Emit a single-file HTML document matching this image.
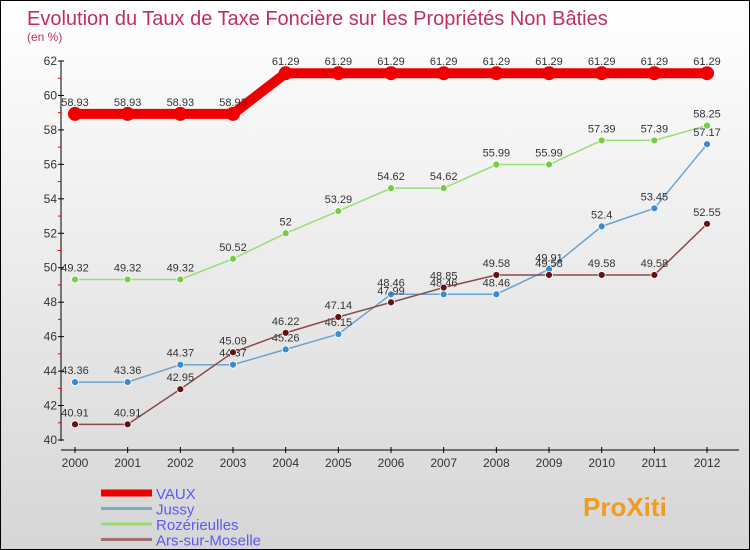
<!DOCTYPE html>
<html><head><meta charset="utf-8"><style>
body{margin:0}
#c{width:748px;height:548px;border:1px solid #000;background:linear-gradient(#fff,#d6d6d6);position:relative;overflow:hidden;font-family:"Liberation Sans",sans-serif}
</style></head><body>
<div id="c">
<svg id="s" width="748" height="548" style="position:absolute;left:0;top:0"></svg>
</div>
<script>
const years=["2000","2001","2002","2003","2004","2005","2006","2007","2008","2009","2010","2011","2012"];
const vaux=[58.93,58.93,58.93,58.93,61.29,61.29,61.29,61.29,61.29,61.29,61.29,61.29,61.29];
const jussy=[43.36,43.36,44.37,44.37,45.26,46.15,48.46,48.46,48.46,49.91,52.4,53.45,57.17];
const roz=[49.32,49.32,49.32,50.52,52,53.29,54.62,54.62,55.99,55.99,57.39,57.39,58.25];
const ars=[40.91,40.91,42.95,45.09,46.22,47.14,47.99,48.85,49.58,49.58,49.58,49.58,52.55];
const yTicks=[40,42,44,46,48,50,52,54,56,58,60,62];
const NS="http://www.w3.org/2000/svg";
const s=document.getElementById('s');
function X(i){return 74+i*52.67;}
function Y(v){return 439-(v-40)*(379/22);}
function el(t,a,p){const e=document.createElementNS(NS,t);for(const k in a)e.setAttribute(k,a[k]);(p||s).appendChild(e);return e;}
let t=el('text',{x:26,y:24,'font-size':20,fill:'#c0305a'});t.textContent="Evolution du Taux de Taxe Foncière sur les Propriétés Non Bâties";

t=el('text',{x:26,y:40,'font-size':12,fill:'#c0305a'});t.textContent="(en %)";

// axes
let a=el('line',{x1:60,y1:60,x2:60,y2:440,stroke:'#000'});
a=el('line',{x1:60,y1:449,x2:738,y2:449,stroke:'#000'});
yTicks.forEach((v,i)=>{
 el('line',{x1:57,y1:Y(v),x2:63,y2:Y(v),stroke:'#000'});
 if(i<yTicks.length-1) el('line',{x1:57,y1:Y(v+1),x2:60,y2:Y(v+1),stroke:'#e00'});
 const l=el('text',{x:56,y:Y(v)+4,'font-size':12,fill:'#333','text-anchor':'end'});l.textContent=v;
 
});
years.forEach((y,i)=>{
 el('line',{x1:X(i),y1:446,x2:X(i),y2:452,stroke:'#000'});
 const l=el('text',{x:X(i),y:466,'font-size':12,fill:'#333','text-anchor':'middle'});l.textContent=y;
 
});
function series(data,color,w,r,name,dot){
 const g=el('g',{});
 el('polyline',{points:data.map((v,i)=>X(i)+','+Y(v)).join(' '),fill:'none',stroke:color,'stroke-width':w,'stroke-linejoin':'round'},g);
 data.forEach((v,i)=>{
  const c=el('circle',{cx:X(i),cy:Y(v),r:r,fill:dot,stroke:'#fff','stroke-width':r>4?0:0.8},g);
  
  const l=el('text',{x:X(i),y:Y(v)-8,'font-size':11,fill:'#333','text-anchor':'middle'},g);l.textContent=v;
 });
}
series(roz,'#99dd77',1.5,3.5,'series-rozerieulles','#77cc44');
series(jussy,'#6aa3d0',1.5,3.5,'series-jussy','#3c8ad0');
series(ars,'#8a4a4a',1.5,3.5,'series-ars-sur-moselle','#661111');
series(vaux,'#ee0000',10,7,'series-vaux','#ee0000');
const leg=[["VAUX","#ee0000",7],["Jussy","#7aaace",3],["Rozérieulles","#99dd77",3],["Ars-sur-Moselle","#a07070",3]];
leg.forEach((d,i)=>{
 const y=492+i*15.5;
 const g=el('g',{});
 el('line',{x1:100,y1:y,x2:151,y2:y,stroke:d[1],'stroke-width':d[2]},g);
 const l=el('text',{x:155,y:y+6,'font-size':15,fill:'#5a5af0'},g);l.textContent=d[0];
});
t=el('text',{x:582,y:515,'font-size':26,'font-weight':'bold',fill:'#f39a20'});t.textContent="ProXiti";

</script>
</body></html>
